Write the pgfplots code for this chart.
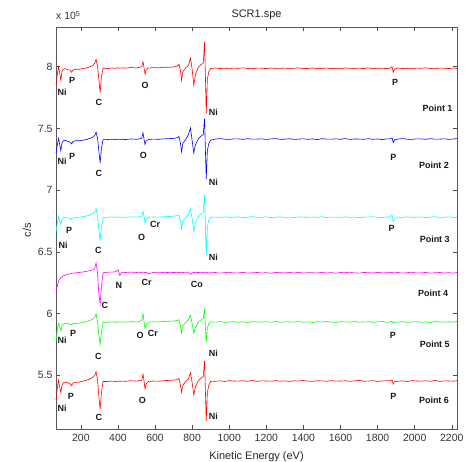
\documentclass[border=0pt]{standalone}
\usepackage{fontspec}
\setmainfont{Liberation Sans}
\usepackage{pgfplots}
\usepackage{pgfplotstable}
\pgfplotsset{compat=1.18}
\definecolor{mred}{rgb}{1,0,0}
\definecolor{mblue}{rgb}{0,0,1}
\definecolor{mcyan}{rgb}{0,1,1}
\definecolor{mmagenta}{rgb}{1,0,1}
\definecolor{mgreen}{rgb}{0,1,0}
\tikzset{lbl/.style={font=\fontsize{9}{10}\selectfont\bfseries, text=black!90}}
\begin{document}
\pgfplotstableread{
x p1 p2 p3 p4 p5 p6
66 7.85 7.30 6.665 6.178 5.78 5.30
76 7.97 7.39 6.76 6.24 5.90 5.43
80 8.00 7.42 6.79 6.265 5.92 5.46
86 7.95 7.37 6.75 6.28 5.89 5.40
92 7.89 7.32 6.72 6.29 5.86 5.36
98 7.96 7.38 6.76 6.298 5.90 5.42
105 7.98 7.40 6.775 6.305 5.915 5.44
115 7.985 7.405 6.78 6.312 5.92 5.445
130 7.975 7.395 6.775 6.318 5.918 5.44
142 7.975 7.39 6.77 6.322 5.915 5.43
150 7.955 7.375 6.762 6.325 5.91 5.416
158 7.975 7.395 6.775 6.327 5.918 5.438
170 7.98 7.40 6.778 6.33 5.92 5.443
190 7.978 7.40 6.78 6.333 5.922 5.445
210 7.985 7.405 6.785 6.337 5.928 5.452
230 7.99 7.41 6.79 6.342 5.935 5.46
250 8.00 7.42 6.80 6.348 5.945 5.47
265 8.01 7.43 6.81 6.355 5.955 5.485
275 8.03 7.445 6.825 6.37 5.97 5.50
282 8.06 7.47 6.85 6.41 6.00 5.53
290 8.00 7.42 6.79 6.33 5.93 5.46
297 7.90 7.32 6.68 6.16 5.83 5.33
304 7.79 7.22 6.595 6.08 5.75 5.224
311 7.92 7.34 6.70 6.22 5.85 5.36
320 7.99 7.41 6.78 6.33 5.93 5.45
340 7.985 7.41 6.78 6.335 5.93 5.45
370 7.99 7.413 6.783 6.336 5.933 5.453
390 7.987 7.409 6.779 6.34 5.929 5.449
400 7.992 7.414 6.783 6.355 5.934 5.454
410 7.988 7.411 6.78 6.31 5.931 5.451
420 7.991 7.413 6.782 6.335 5.933 5.453
440 7.989 7.41 6.779 6.333 5.93 5.451
470 7.994 7.415 6.784 6.336 5.935 5.456
500 7.99 7.412 6.781 6.333 5.932 5.453
515 7.995 7.416 6.785 6.335 5.936 5.457
528 8.00 7.42 6.79 6.333 5.945 5.46
535 8.04 7.465 6.83 6.336 6.00 5.51
541 7.99 7.41 6.78 6.334 5.93 5.45
546 7.94 7.37 6.73 6.33 5.88 5.39
552 7.975 7.40 6.765 6.336 5.91 5.43
565 7.99 7.41 6.78 6.322 5.93 5.45
590 7.993 7.414 6.783 6.333 5.934 5.454
620 7.991 7.412 6.781 6.331 5.932 5.452
650 7.996 7.416 6.785 6.334 5.936 5.457
680 7.995 7.418 6.787 6.332 5.938 5.459
705 8.00 7.42 6.79 6.333 5.94 5.462
720 8.005 7.425 6.795 6.335 5.945 5.465
729 8.02 7.435 6.80 6.332 5.95 5.475
737 7.97 7.38 6.75 6.334 5.90 5.42
743 7.89 7.31 6.69 6.33 5.846 5.363
750 7.96 7.38 6.75 6.333 5.90 5.42
765 7.99 7.41 6.78 6.334 5.93 5.45
780 8.01 7.45 6.80 6.336 5.95 5.47
791 8.07 7.505 6.85 6.318 5.986 5.52
800 7.98 7.40 6.77 6.33 5.92 5.44
809 7.85 7.30 6.665 6.334 5.84 5.34
818 7.94 7.37 6.74 6.332 5.89 5.41
835 8.00 7.42 6.79 6.333 5.935 5.46
850 8.02 7.44 6.81 6.331 5.95 5.48
860 8.03 7.45 6.82 6.334 5.96 5.49
867 8.20 7.58 6.96 6.336 6.04 5.616
872 7.90 7.30 6.70 6.328 5.88 5.35
876 7.62 7.09 6.47 6.331 5.77 5.13
882 7.90 7.32 6.70 6.333 5.88 5.36
890 7.96 7.38 6.76 6.33 5.92 5.42
900 7.985 7.405 6.78 6.331 5.932 5.45
925 7.990 7.414 6.782 6.333 5.931 5.452
950 7.985 7.418 6.779 6.328 5.935 5.455
975 7.988 7.413 6.784 6.332 5.929 5.450
1000 7.983 7.411 6.780 6.335 5.932 5.457
1025 7.989 7.416 6.781 6.329 5.934 5.454
1050 7.987 7.415 6.783 6.330 5.930 5.453
1075 7.991 7.412 6.778 6.334 5.933 5.456
1100 7.986 7.417 6.782 6.328 5.928 5.452
1125 7.984 7.413 6.785 6.331 5.935 5.458
1150 7.989 7.414 6.779 6.333 5.932 5.451
1175 7.988 7.416 6.780 6.329 5.931 5.455
1200 7.985 7.411 6.784 6.332 5.934 5.454
1225 7.990 7.415 6.778 6.327 5.930 5.452
1250 7.986 7.418 6.781 6.334 5.936 5.457
1275 7.987 7.412 6.783 6.331 5.929 5.452
1300 7.989 7.413 6.779 6.330 5.933 5.455
1325 7.984 7.417 6.782 6.333 5.932 5.450
1350 7.988 7.411 6.777 6.329 5.930 5.456
1375 7.991 7.414 6.784 6.335 5.935 5.454
1400 7.985 7.416 6.781 6.328 5.930 5.458
1425 7.986 7.412 6.780 6.332 5.933 5.453
1450 7.990 7.415 6.783 6.331 5.928 5.451
1475 7.984 7.410 6.779 6.329 5.934 5.456
1500 7.987 7.417 6.785 6.334 5.932 5.455
1525 7.989 7.414 6.778 6.329 5.936 5.452
1550 7.985 7.413 6.782 6.332 5.931 5.457
1575 7.988 7.416 6.781 6.327 5.929 5.453
1600 7.983 7.412 6.779 6.333 5.934 5.454
1625 7.990 7.418 6.784 6.331 5.933 5.456
1650 7.987 7.411 6.779 6.335 5.930 5.451
1675 7.986 7.415 6.782 6.330 5.935 5.455
1700 7.989 7.414 6.777 6.328 5.931 5.458
1725 7.985 7.412 6.783 6.333 5.932 5.452
1750 7.991 7.417 6.781 6.332 5.934 5.453
1775 7.984 7.412 6.785 6.329 5.929 5.457
1800 7.988 7.415 6.780 6.334 5.933 5.451
1825 7.987 7.410 6.778 6.330 5.936 5.454
1850 7.985 7.416 6.783 6.331 5.930 5.456
1865 7.988 7.415 6.782 6.332 5.933 5.455
1878 8.000 7.425 6.797 6.334 5.937 5.462
1884 7.955 7.385 6.745 6.328 5.922 5.428
1892 7.980 7.408 6.772 6.331 5.930 5.448
1910 7.990 7.414 6.782 6.333 5.931 5.452
1935 7.985 7.418 6.779 6.328 5.935 5.455
1960 7.988 7.413 6.784 6.332 5.929 5.450
1985 7.983 7.411 6.780 6.335 5.932 5.457
2010 7.989 7.416 6.781 6.329 5.934 5.454
2035 7.987 7.415 6.783 6.330 5.930 5.453
2060 7.991 7.412 6.778 6.334 5.933 5.456
2085 7.986 7.417 6.782 6.328 5.928 5.452
2110 7.984 7.413 6.785 6.331 5.935 5.458
2135 7.989 7.414 6.779 6.333 5.932 5.451
2160 7.988 7.416 6.780 6.329 5.931 5.455
2185 7.985 7.411 6.784 6.332 5.934 5.454
2210 7.990 7.415 6.778 6.327 5.930 5.452
2228 7.986 7.418 6.781 6.334 5.936 5.457
}\spectra
\begin{tikzpicture}
\path[use as bounding box] (0,0) rectangle (469bp,462bp);
\begin{axis}[
  at={(56bp,33bp)}, anchor=south west,
  scale only axis, width=401bp, height=402bp,
  xmin=66, xmax=2228, ymin=5.065, ymax=8.322,
  xtick={200,400,...,2200},
  ytick={5.5,6,6.5,7,7.5,8},
  scaled x ticks=false, scaled y ticks=false,
  /pgf/number format/assume math mode=true,
  /pgf/number format/1000 sep={},
  tick label style={font=\fontsize{10.5}{12}\selectfont, text=black!80},
  xticklabel style={yshift=-1.5bp},
  major tick length=4bp,
  tick style={black!70, line width=0.5pt},
  axis line style={black!65, line width=0.7pt},
  clip=false,
  every axis plot/.append style={line width=0.6pt},
]
\addplot[mred] table[x=x,y=p1] {\spectra};
\addplot[mblue] table[x=x,y=p2] {\spectra};
\addplot[mcyan] table[x=x,y=p3] {\spectra};
\addplot[mmagenta] table[x=x,y=p4] {\spectra};
\addplot[mgreen] table[x=x,y=p5] {\spectra};
\addplot[mred] table[x=x,y=p6] {\spectra};
% Point 1
\node[lbl] at (axis cs:99,7.79) {Ni};
\node[lbl] at (axis cs:153,7.89) {P};
\node[lbl] at (axis cs:297,7.71) {C};
\node[lbl] at (axis cs:546,7.85) {O};
\node[lbl] at (axis cs:915,7.63) {Ni};
\node[lbl] at (axis cs:1894,7.87) {P};
\node[lbl] at (axis cs:2123,7.66) {Point 1};
% Point 2
\node[lbl] at (axis cs:99,7.238) {Ni};
\node[lbl] at (axis cs:153,7.273) {P};
\node[lbl] at (axis cs:297,7.139) {C};
\node[lbl] at (axis cs:537,7.28) {O};
\node[lbl] at (axis cs:915,7.065) {Ni};
\node[lbl] at (axis cs:1885,7.268) {P};
\node[lbl] at (axis cs:2104,7.20) {Point 2};
% Point 3
\node[lbl] at (axis cs:104,6.555) {Ni};
\node[lbl] at (axis cs:137,6.67) {P};
\node[lbl] at (axis cs:294,6.51) {C};
\node[lbl] at (axis cs:528,6.62) {O};
\node[lbl] at (axis cs:600,6.72) {Cr};
\node[lbl] at (axis cs:915,6.46) {Ni};
\node[lbl] at (axis cs:1876,6.69) {P};
\node[lbl] at (axis cs:2108,6.60) {Point 3};
% Point 4
\node[lbl] at (axis cs:330,6.07) {C};
\node[lbl] at (axis cs:405,6.23) {N};
\node[lbl] at (axis cs:555,6.255) {Cr};
\node[lbl] at (axis cs:825,6.24) {Co};
\node[lbl] at (axis cs:2099,6.165) {Point 4};
% Point 5
\node[lbl] at (axis cs:99,5.78) {Ni};
\node[lbl] at (axis cs:158,5.84) {P};
\node[lbl] at (axis cs:294,5.65) {C};
\node[lbl] at (axis cs:519,5.82) {O};
\node[lbl] at (axis cs:588,5.84) {Cr};
\node[lbl] at (axis cs:915,5.68) {Ni};
\node[lbl] at (axis cs:1882,5.82) {P};
\node[lbl] at (axis cs:2108,5.75) {Point 5};
% Point 6
\node[lbl] at (axis cs:99,5.23) {Ni};
\node[lbl] at (axis cs:146,5.327) {P};
\node[lbl] at (axis cs:297,5.16) {C};
\node[lbl] at (axis cs:531,5.30) {O};
\node[lbl] at (axis cs:915,5.165) {Ni};
\node[lbl] at (axis cs:1885,5.327) {P};
\node[lbl] at (axis cs:2104,5.30) {Point 6};
% texts
\node[anchor=base, font=\fontsize{11}{12}\selectfont, text=black!85] at (rel axis cs:0.5,1) [yshift=9bp] {SCR1.spe};
\node[anchor=base west, font=\fontsize{10.5}{12}\selectfont, text=black!80, inner sep=0pt] at (rel axis cs:0,1) [yshift=7bp] {x 10\textsuperscript{5}};
\node[anchor=base, font=\fontsize{11}{12}\selectfont, text=black!85] at (rel axis cs:0.5,0) [yshift=-30bp] {Kinetic Energy (eV)};
\node[xshift=-29bp, rotate=90, font=\fontsize{11}{12}\selectfont, text=black!85] at (rel axis cs:0,0.495) {c/s};
\end{axis}
\end{tikzpicture}
\end{document}
